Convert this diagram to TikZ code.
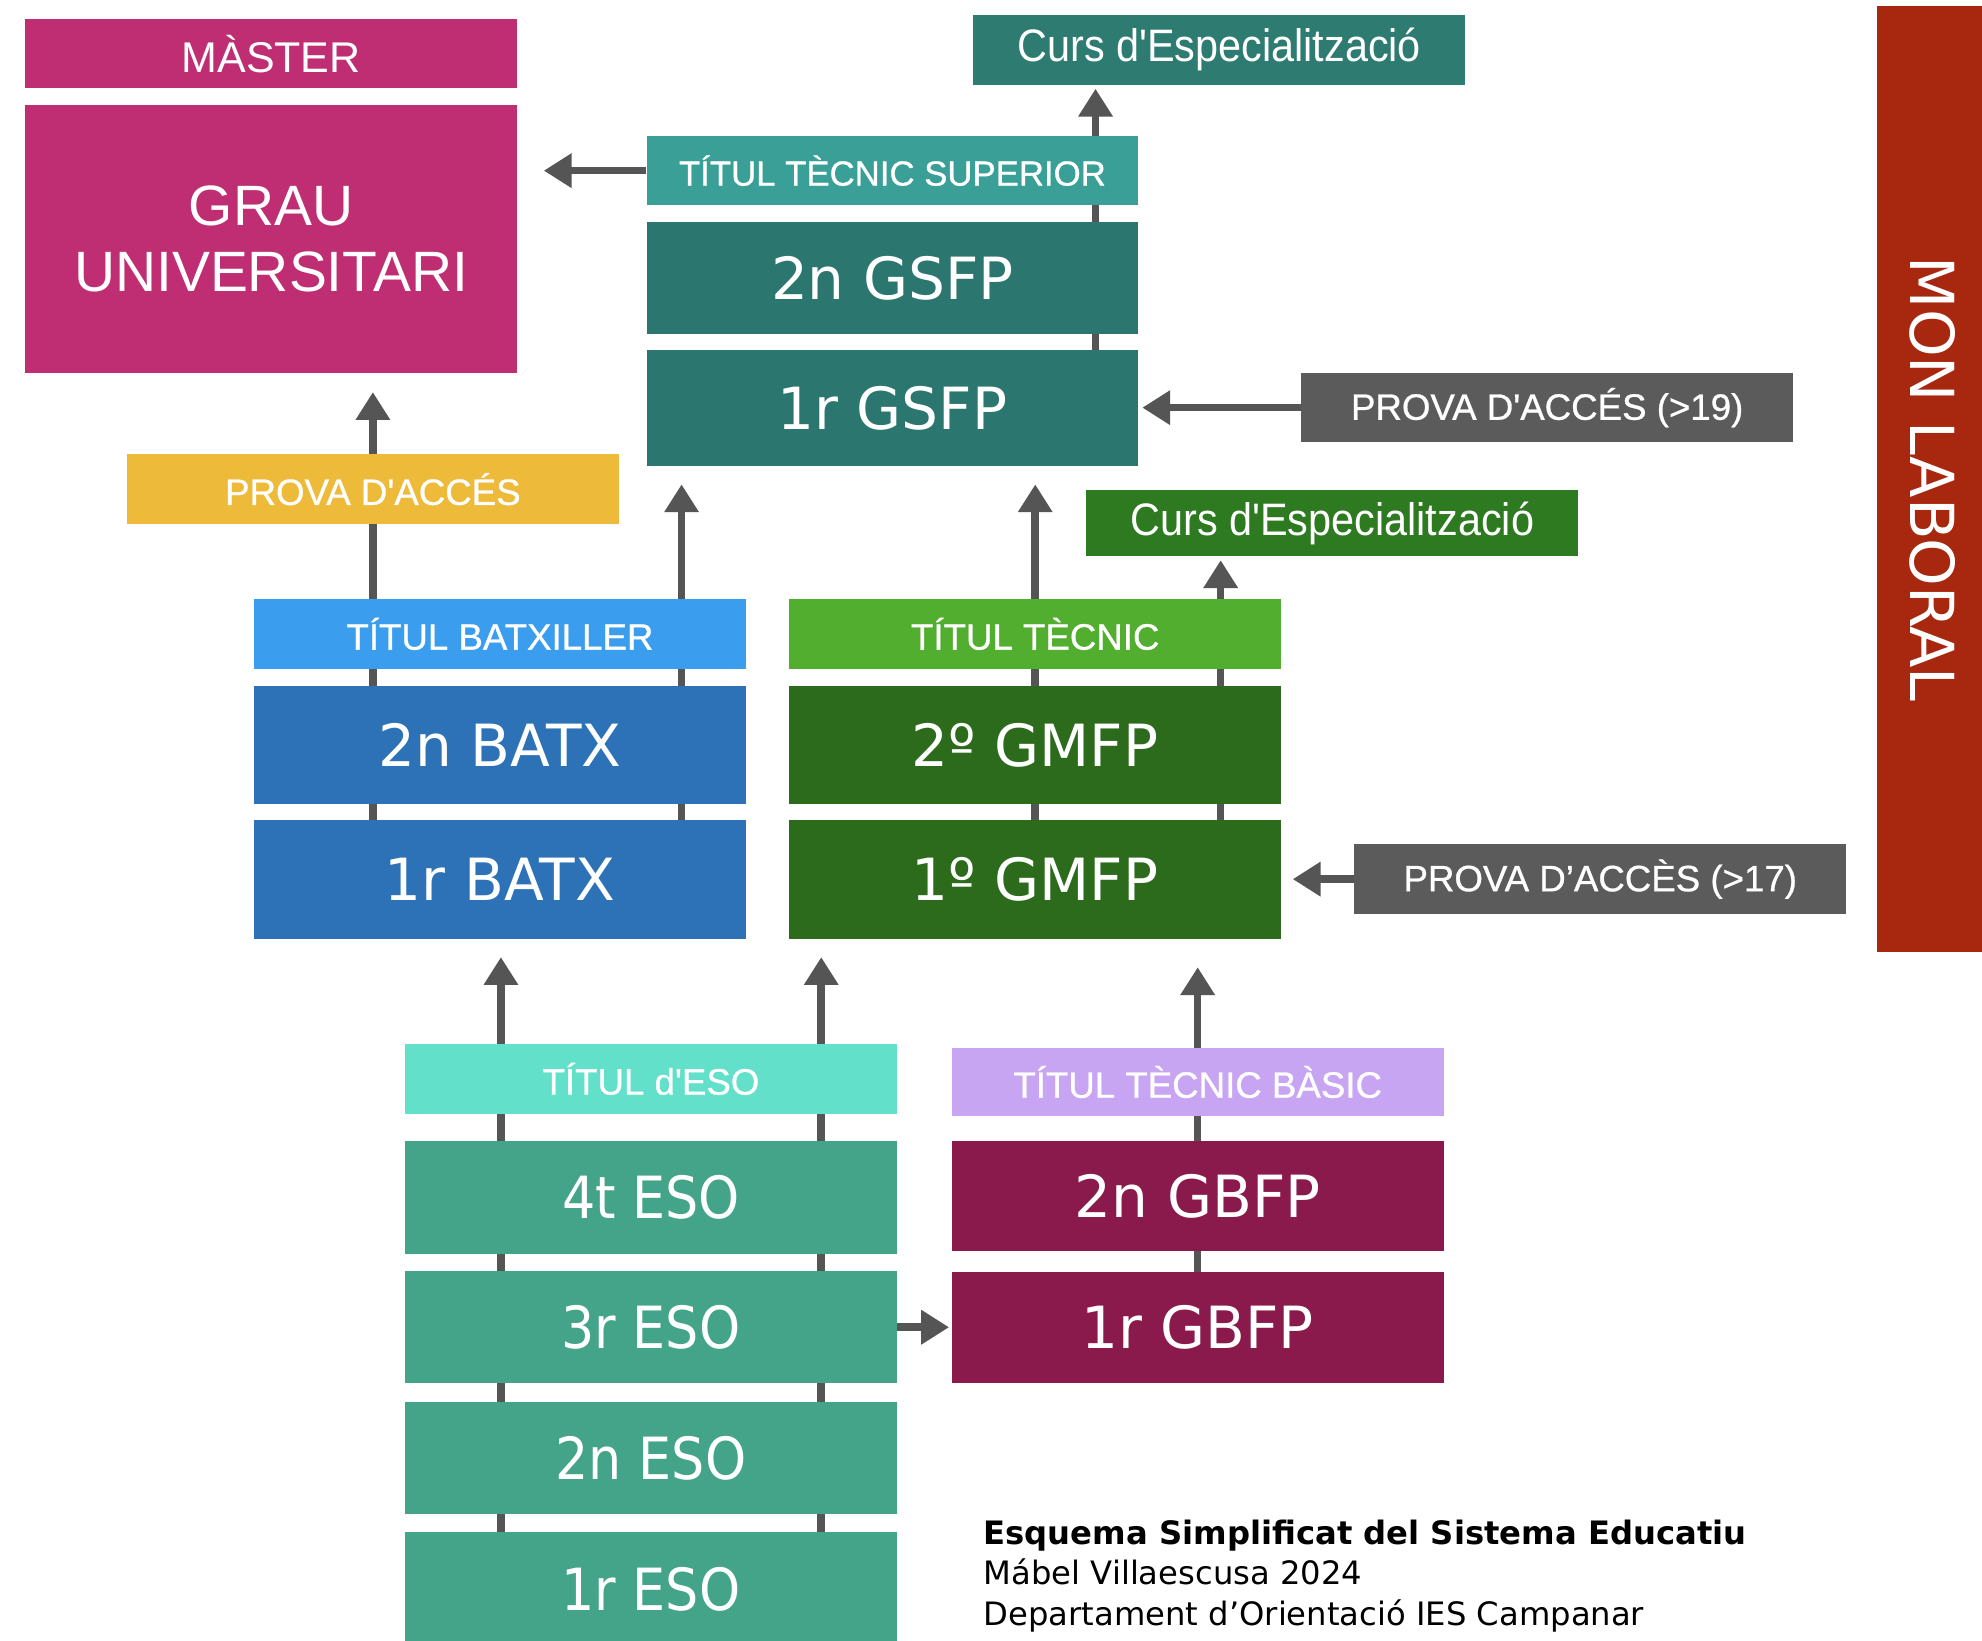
\documentclass[tikz,border=0pt]{standalone}
\usepackage{fontspec}
\usepackage{tikz}
\usetikzlibrary{arrows.meta,backgrounds}

\newfontfamily\gradefont{DejaVu Sans}
\newfontfamily\esofont[FakeStretch=0.9]{DejaVu Sans}
\newfontfamily\cursfont[FakeStretch=0.91]{Liberation Sans}
\newfontfamily\plainfont{Liberation Sans}
\newfontfamily\titlefont[FakeBold=0.8]{Liberation Sans}

\definecolor{grauMag}{HTML}{BF2E72}
\definecolor{cursTeal}{HTML}{2E7B72}
\definecolor{supTeal}{HTML}{3A9F97}
\definecolor{gsfpTeal}{HTML}{2C7670}
\definecolor{provaGray}{HTML}{5B5B5B}
\definecolor{provaYel}{HTML}{EDBA3A}
\definecolor{cursGreen}{HTML}{2D7A20}
\definecolor{tecGreen}{HTML}{52AE2F}
\definecolor{gmfpGreen}{HTML}{2C6B1B}
\definecolor{batLight}{HTML}{3B9DEE}
\definecolor{batBlue}{HTML}{2D72B7}
\definecolor{laboralRed}{HTML}{A8270F}
\definecolor{esoLight}{HTML}{62E0CA}
\definecolor{esoGreen}{HTML}{44A48A}
\definecolor{basLilac}{HTML}{C7A5F2}
\definecolor{gbfpWine}{HTML}{8A1A4B}
\definecolor{arrowGray}{HTML}{555555}

\begin{document}
\begin{tikzpicture}[x=1pt, y=-1pt,
  stage/.style={rectangle, inner sep=0pt, text=white, align=center, minimum width=389pt},
  grade/.style={stage, minimum height=#1, font=\gradefont\fontsize{46}{50}\selectfont},
  grade/.default=90pt,
  eso/.style={stage, minimum height=89pt, fill=esoGreen, font=\esofont\fontsize{46}{50}\selectfont},
  titol/.style={stage, minimum height=55pt, font=\titlefont\fontsize{29}{34}\selectfont},
  curs/.style={stage, minimum height=55pt, font=\cursfont\fontsize{36}{40}\selectfont},
  prova/.style={stage, minimum height=55pt, fill=provaGray, font=\titlefont\fontsize{29}{34}\selectfont},
  arr/.style={draw=arrowGray, line width=6pt, -{Triangle[width=26pt,length=22pt]}},
  ]
  \useasboundingbox (0,0) rectangle (1568,1298);
  %nodes
  \node at (214.5,42.5) [stage, fill=grauMag, minimum height=55pt, font=\plainfont\fontsize{34}{38}\selectfont] (master) {MÀSTER};
  \node at (214.5,189) [stage, fill=grauMag, minimum height=212pt, font=\plainfont\fontsize{45}{52}\selectfont] (grau) {GRAU\\UNIVERSITARI};
  \node at (964.5,39.5) [curs, fill=cursTeal] (cursSup) {Curs d'Especialització};
  \node at (706,135) [titol, fill=supTeal, font=\titlefont\fontsize{27.5}{32}\selectfont] (titolSup) {TÍTUL TÈCNIC SUPERIOR};
  \node at (706,220) [grade=88pt, fill=gsfpTeal] (gsfp2) {2n GSFP};
  \node at (706,323) [grade=92pt, fill=gsfpTeal] (gsfp1) {1r GSFP};
  \node at (1224,322.5) [prova] (provaSup) {PROVA D'ACCÉS (>19)};
  \node at (295,387) [titol, fill=provaYel] (provaUni) {PROVA D'ACCÉS};
  \node at (1054,414) [curs, fill=cursGreen, minimum height=52pt] (cursMig) {Curs d'Especialització};
  \node at (395.5,501.5) [titol, fill=batLight] (titolBat) {TÍTUL BATXILLER};
  \node at (395.5,589.5) [grade=93pt, fill=batBlue] (batx2) {2n BATX};
  \node at (395.5,696) [grade=94pt, fill=batBlue] (batx1) {1r BATX};
  \node at (819,501.5) [titol, fill=tecGreen] (titolTec) {TÍTUL TÈCNIC};
  \node at (819,589.5) [grade=93pt, fill=gmfpGreen] (gmfp2) {2º GMFP};
  \node at (819,696) [grade=94pt, fill=gmfpGreen] (gmfp1) {1º GMFP};
  \node at (1266,695.5) [prova] (provaMig) {PROVA D’ACCÈS (>17)};
  \node at (1528.5,379) [stage, fill=laboralRed, rotate=-90, minimum width=748pt, minimum height=87pt, font=\gradefont\fontsize{48}{52}\selectfont] (laboral) {MON LABORAL};
  \node at (515,853.5) [titol, fill=esoLight] (titolEso) {TÍTUL d'ESO};
  \node at (515,947.5) [eso] (eso4) {4t ESO};
  \node at (515,1050) [eso] (eso3) {3r ESO};
  \node at (515,1153.5) [eso] (eso2) {2n ESO};
  \node at (515,1257) [eso, minimum height=90pt] (eso1) {1r ESO};
  \node at (947.5,856) [titol, fill=basLilac, minimum height=54pt] (titolBas) {TÍTUL TÈCNIC BÀSIC};
  \node at (947.5,946.5) [grade=87pt, fill=gbfpWine] (gbfp2) {2n GBFP};
  \node at (947.5,1050) [grade=88pt, fill=gbfpWine] (gbfp1) {1r GBFP};
  \node at (778,1202) [anchor=north west, align=left, inner sep=0pt, font=\gradefont\fontsize{25.5}{32}\selectfont] (credits) {\textbf{Esquema Simplificat del Sistema Educatiu}\\Mábel Villaescusa 2024\\Departament d’Orientació IES Campanar};

  % lines running up behind the courses
  \begin{scope}[on background layer]
    \fill[white] (0,0) rectangle (1568,1298);
    \draw[arr, shorten >=15pt] (batx1.center -| provaUni.south) -- (provaUni.south |- grau.south);
    \draw[arr, shorten >=14pt] ([xshift=-51pt]batx1.east) -- ([xshift=-51pt]batx1.east |- gsfp1.south);
    \draw[arr, shorten >=14pt] (gmfp1.center) -- (gmfp1.center |- gsfp1.south);
    \draw[arr, shorten >=3pt] ([xshift=-48pt]gmfp1.east) -- ([xshift=-48pt]gmfp1.east |- cursMig.south);
    \draw[arr, shorten >=3pt] ([xshift=-34pt]gsfp1.east) -- ([xshift=-34pt]gsfp1.east |- cursSup.south);
    \draw[arr, shorten >=14pt] ([xshift=76pt]eso1.west) -- ([xshift=76pt]eso1.west |- batx1.south);
    \draw[arr, shorten >=14pt] ([xshift=-60pt]eso1.east) -- ([xshift=-60pt]eso1.east |- gmfp1.south);
    \draw[arr, shorten >=22pt] (gbfp1.center) -- (gbfp1.center |- gmfp1.south);
  \end{scope}

  % side arrows
  \draw[arr, shorten >=21pt] (titolSup.west) -- (titolSup.west -| grau.east);
  \draw[arr, shorten >=3pt] (provaSup.west) -- (provaSup.west -| gsfp1.east);
  \draw[arr, shorten >=9pt] (provaMig.west) -- (provaMig.west -| gmfp1.east);
  \draw[arr, shorten >=2pt] (eso3.east) -- (gbfp1.west);
\end{tikzpicture}
\end{document}
